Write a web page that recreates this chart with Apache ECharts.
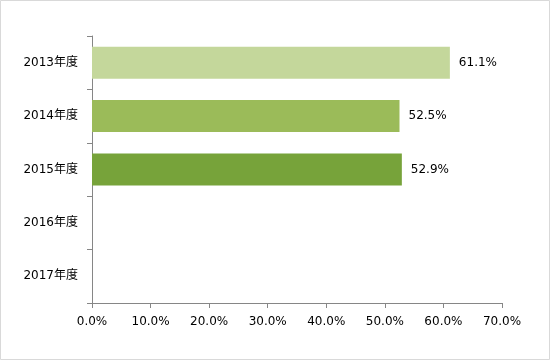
<!DOCTYPE html>
<html><head><meta charset="utf-8">
<script src="https://cdn.jsdelivr.net/npm/echarts@6/dist/echarts.min.js"></script>
<style>html,body{margin:0;padding:0;background:#fff}#c{width:550px;height:360px}</style>
</head><body><div id="c"></div>
<script>
const categories = ['2013年度','2014年度','2015年度','2016年度','2017年度'];
const values = [61.1, 52.5, 52.9, null, null];
const xTicks = [0, 10, 20, 30, 40, 50, 60, 70];
const barColors = ['#C4D79B','#9BBB59','#77A33A','#77A33A','#77A33A'];

const font = '"DejaVu Sans","Noto Sans CJK JP",sans-serif';
const chart = echarts.init(document.getElementById('c'), null, {renderer:'canvas'});
chart.setOption({
  animation:false,
  backgroundColor:'#fff',
  graphic:[{type:'rect',shape:{x:0.5,y:0.5,width:549,height:359},style:{fill:'none',stroke:'#d9d9d9',lineWidth:1},silent:true}],
  grid:{left:92,right:48,top:36,bottom:57,containLabel:false},
  xAxis:{type:'value',min:xTicks[0],max:xTicks[xTicks.length-1],interval:10,
    axisLine:{show:true,lineStyle:{color:'#868686'}},
    axisTick:{show:true,length:5,lineStyle:{color:'#868686'}},
    splitLine:{show:false},
    axisLabel:{margin:13,color:'#000',fontSize:12,fontFamily:font,formatter:v=>v.toFixed(1)+'%'}},
  yAxis:{type:'category',data:categories,inverse:true,
    axisLine:{show:true,lineStyle:{color:'#868686'}},
    axisTick:{show:true,length:5,lineStyle:{color:'#868686'}},
    axisLabel:{margin:14,color:'#000',fontSize:12,fontFamily:font}},
  series:[{type:'bar',data:values,barCategoryGap:'40%',
    itemStyle:{color:p=>barColors[p.dataIndex]},
    label:{show:true,position:'right',distance:9,color:'#000',fontSize:12,fontFamily:font,
      formatter:p=>p.value==null?'':p.value.toFixed(1)+'%'}}]
});
</script></body></html>
